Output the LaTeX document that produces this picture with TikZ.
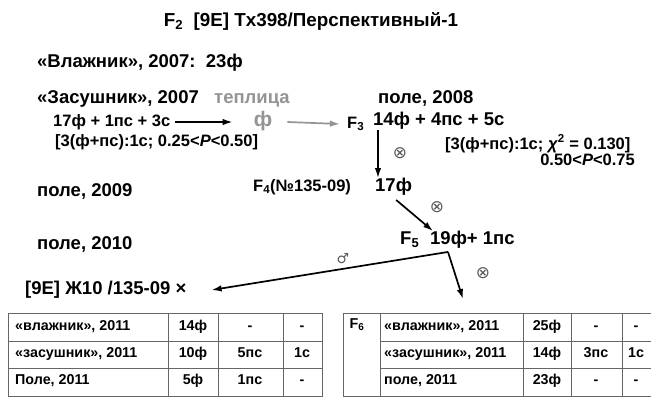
\documentclass[tikz,border=0pt]{standalone}
\usepackage{fontspec}
\setmainfont{Liberation Sans}
\newfontfamily\symfont{DejaVu Sans}
\usetikzlibrary{arrows.meta}
\definecolor{textgray}{gray}{0.58}
\definecolor{rulegray}{gray}{0.4}
\tikzset{
  lbl/.style={anchor=west,inner sep=0pt,text height=13.5pt,text depth=4pt,font=\bfseries\fontsize{18.5}{21}\selectfont},
  sml/.style={anchor=west,inner sep=0pt,text height=12pt,text depth=3.5pt,font=\bfseries\fontsize{16.5}{19}\selectfont},
  cell/.style={inner sep=0pt,text height=10.5pt,text depth=3pt,font=\bfseries\fontsize{14.3}{16}\selectfont},
  sym/.style={inner sep=0pt,text=black!65,font=\symfont\fontsize{17}{18}\selectfont},
  arr/.style={-{Latex[length=10pt,width=6.5pt]},line width=1.7pt},
  rule/.style={rulegray,line width=1pt}
}
\begin{document}
\begin{tikzpicture}[x=1pt,y=-1pt]
  \useasboundingbox (0,0) rectangle (651,397);
  \path
    (311,22) node[lbl,anchor=center,font=\bfseries\fontsize{18.8}{21}\selectfont] (title) {F\textsubscript{2}\ \ [9E] Tx398/Перспективный-1}
    (37,63) node[lbl] (vlazh) {«Влажник», 2007:\ \ 23ф}
    (37,99) node[lbl] (zasush) {«Засушник», 2007}
    (214,99) node[lbl,text=textgray] (teplica) {теплица}
    (378,99) node[lbl] (pole08) {поле, 2008}
    (53,122) node[sml] (cross) {17ф + 1пс + 3с}
    (263,122) node[lbl,anchor=center,text=textgray,font=\bfseries\fontsize{21}{22}\selectfont] (phi) {ф}
    (347,124) node[sml] (F3) {F\textsubscript{3}}
    (373,121) node[lbl] (gen3) {14ф + 4пс + 5с}
    (55,142) node[sml] (seg1) {[3(ф+пс):1с; 0.25<\textit{P}<0.50]}
    (445,145) node[sml] (seg2) {[3(ф+пс):1с; \textit{χ}\textsuperscript{2} = 0.130]}
    (635,161) node[sml,anchor=east] (pval) {0.50<\textit{P}<0.75}
    (37,192) node[lbl] (pole09) {поле, 2009}
    (253,187) node[sml] (F4) {F\textsubscript{4}(№135-09)}
    (375,187) node[lbl] (gen4) {17ф}
    (37,245) node[lbl] (pole10) {поле, 2010}
    (400,240) node[lbl] (F5) {F\textsubscript{5}}
    (430,240) node[lbl] (gen5) {19ф+ 1пс}
    (25,290) node[lbl] (bcross) {[9E] Ж10 /135-09 ×};
  \path
    (400,153) node[sym] (self1) {⊗}
    (437,207) node[sym] (self2) {⊗}
    (483,273) node[sym] (self3) {⊗}
    (343,259) node[sym,font=\symfont\fontsize{14}{16}\selectfont] (male) {♂};
  \coordinate (split) at ([xshift=18pt,yshift=-3pt]gen5.south west);
  \coordinate (f6in) at (463,299);
  \begin{scope}[arr]
    \draw ([xshift=5pt]cross.east) -- ([xshift=-21pt]phi.west);
    \draw[textgray] ([xshift=15pt]phi.east) -- ([xshift=-7pt]F3.west);
    \draw ([xshift=5pt]gen3.south west) -- ([xshift=3pt]gen4.north west);
    \draw ([xshift=-16pt,yshift=-4pt]gen4.south east) -- ([xshift=3pt]gen5.north west);
    \draw (split) -- ([xshift=25pt]bcross.east);
    \draw (split) -- (f6in);
  \end{scope}
  \draw[rule] (8,313) rectangle (322,396);
  \foreach \y in {341,368} \draw[rule] (8,\y) -- (322,\y);
  \foreach \x in {168,218,283} \draw[rule] (\x,313) -- (\x,396);
  \draw[rule] (651,313) -- (343,313) -- (343,396) -- (651,396);
  \foreach \y in {341,368} \draw[rule] (380,\y) -- (651,\y);
  \foreach \x in {380,523,571,622} \draw[rule] (\x,313) -- (\x,396);
  \path
    (15,327) node[cell,anchor=west] (l1a) {«влажник», 2011}
    (193,327) node[cell] (l1b) {14ф}
    (250,327) node[cell] (l1c) {-}
    (302,327) node[cell] (l1d) {-}
    (15,354) node[cell,anchor=west] (l2a) {«засушник», 2011}
    (193,354) node[cell] (l2b) {10ф}
    (250,354) node[cell] (l2c) {5пс}
    (302,354) node[cell] (l2d) {1с}
    (15,381) node[cell,anchor=west] (l3a) {Поле, 2011}
    (193,381) node[cell] (l3b) {5ф}
    (250,381) node[cell] (l3c) {1пс}
    (302,381) node[cell] (l3d) {-};
  \path
    (357,325) node[cell] (F6) {F\textsubscript{6}}
    (384,327) node[cell,anchor=west] (r1a) {«влажник», 2011}
    (547,327) node[cell] (r1b) {25ф}
    (596,327) node[cell] (r1c) {-}
    (636,327) node[cell] (r1d) {-}
    (384,354) node[cell,anchor=west] (r2a) {«засушник», 2011}
    (547,354) node[cell] (r2b) {14ф}
    (596,354) node[cell] (r2c) {3пс}
    (636,354) node[cell] (r2d) {1с}
    (384,381) node[cell,anchor=west] (r3a) {поле, 2011}
    (547,381) node[cell] (r3b) {23ф}
    (596,381) node[cell] (r3c) {-}
    (636,381) node[cell] (r3d) {-};
\end{tikzpicture}
\end{document}
